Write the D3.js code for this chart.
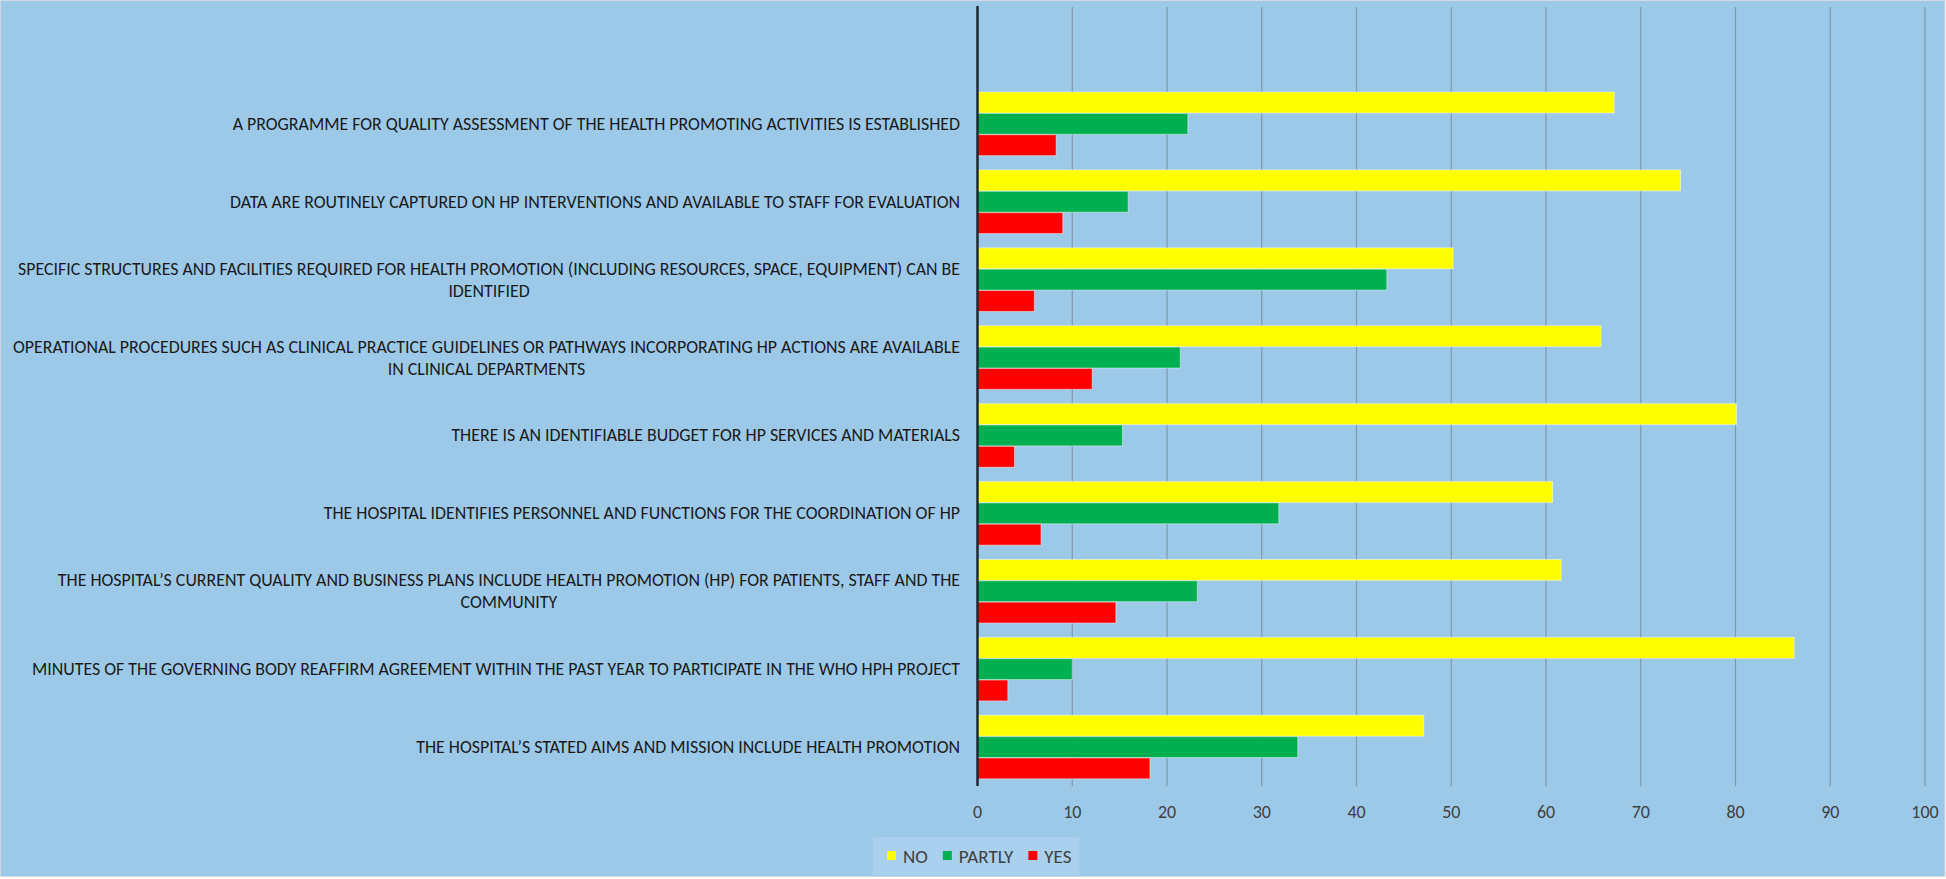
<!DOCTYPE html>
<html>
<head>
<meta charset="utf-8">
<script src="https://cdn.jsdelivr.net/npm/d3@7"></script>
<style>
  html, body { margin: 0; padding: 0; background: #ffffff; }
  svg { display: block; }
  text { font-family: "Carlito", "Liberation Sans Narrow", "DejaVu Sans Condensed", sans-serif; }
</style>
</head>
<body>
<svg id="chart" width="1946" height="879"></svg>
<script>
// ---- data ----
const categories = [
  "A PROGRAMME FOR QUALITY ASSESSMENT OF THE HEALTH PROMOTING ACTIVITIES IS ESTABLISHED",
  "DATA ARE ROUTINELY CAPTURED ON HP INTERVENTIONS AND AVAILABLE TO STAFF FOR EVALUATION",
  "SPECIFIC STRUCTURES AND FACILITIES REQUIRED FOR HEALTH PROMOTION (INCLUDING RESOURCES, SPACE, EQUIPMENT) CAN BE\nIDENTIFIED",
  "OPERATIONAL PROCEDURES SUCH AS CLINICAL PRACTICE GUIDELINES OR PATHWAYS INCORPORATING HP ACTIONS ARE AVAILABLE\nIN CLINICAL DEPARTMENTS",
  "THERE IS AN IDENTIFIABLE BUDGET FOR HP SERVICES AND MATERIALS",
  "THE HOSPITAL IDENTIFIES PERSONNEL AND FUNCTIONS FOR THE COORDINATION OF HP",
  "THE HOSPITAL’S CURRENT QUALITY AND BUSINESS PLANS INCLUDE HEALTH PROMOTION (HP) FOR PATIENTS, STAFF AND THE\nCOMMUNITY",
  "MINUTES OF THE GOVERNING BODY REAFFIRM AGREEMENT WITHIN THE PAST YEAR TO PARTICIPATE IN THE WHO HPH PROJECT",
  "THE HOSPITAL’S STATED AIMS AND MISSION INCLUDE HEALTH PROMOTION"
];
const seriesNames = ["NO", "PARTLY", "YES"];
const noValues     = [67.2, 74.2, 50.2, 65.8, 80.1, 60.7, 61.6, 86.2, 47.1];
const partlyValues = [22.2, 15.9, 43.2, 21.4, 15.3, 31.8, 23.2, 10.0, 33.8];
const yesValues    = [ 8.3,  9.0,  6.0, 12.1,  3.9,  6.7, 14.6,  3.2, 18.2];
const xTicks = [0, 10, 20, 30, 40, 50, 60, 70, 80, 90, 100];
const seriesColors = ["#ffff00", "#00b050", "#ff0000"];

// ---- layout ----
const W = 1946, H = 879;
const plot = { left: 977.5, right: 1925, top: 7, bottom: 786 };
const bg = "#9dc9e9";

const svg = d3.select("#chart");
svg.append("rect").attr("x", 0.5).attr("y", 0.5).attr("width", W - 1.5).attr("height", 876)
  .attr("fill", bg).attr("stroke", "#d0d8e0").attr("stroke-width", 1);

const x = d3.scaleLinear().domain([0, 100]).range([plot.left, plot.right]);
const yDomain = ["__blank__"].concat(categories);
const y = d3.scaleBand().domain(yDomain).range([plot.top, plot.bottom])
  .paddingInner(0.173).paddingOuter(0.0865);
const ySub = d3.scaleBand().domain(seriesNames).range([0, y.bandwidth()]).padding(0.02);

// gridlines
svg.append("g")
  .selectAll("line").data(xTicks.filter(d => d > 0)).join("line")
  .attr("x1", d => x(d)).attr("x2", d => x(d))
  .attr("y1", plot.top).attr("y2", plot.bottom)
  .attr("stroke", "#7f98ad").attr("stroke-width", 1.2);

// tick labels
svg.append("g")
  .selectAll("text").data(xTicks).join("text")
  .attr("x", d => x(d)).attr("y", 812)
  .attr("text-anchor", "middle").attr("dominant-baseline", "central")
  .attr("font-size", 18).attr("fill", "#404040")
  .text(d => d);

// bars
const series = [noValues, partlyValues, yesValues];
const barData = [];
categories.forEach((c, i) => {
  seriesNames.forEach((s, j) => barData.push({ cat: c, series: s, value: series[j][i], color: seriesColors[j] }));
});
svg.append("g").selectAll("rect").data(barData).join("rect")
  .attr("x", x(0))
  .attr("y", d => y(d.cat) + ySub(d.series))
  .attr("width", d => x(d.value) - x(0))
  .attr("height", ySub.bandwidth())
  .attr("fill", d => d.color)
  .attr("stroke", "rgba(255,255,255,0.45)").attr("stroke-width", 1);

// vertical axis line
svg.append("line")
  .attr("x1", x(0)).attr("x2", x(0)).attr("y1", plot.top - 1).attr("y2", plot.bottom)
  .attr("stroke", "#1c2833").attr("stroke-width", 2.5);

// category labels
const labelRight = 960;
const labelFont = 17;
const lg = svg.append("g");
const lineH = 22;
const labelGroups = lg.selectAll("g").data(categories).join("g");
labelGroups.each(function(c) {
  const g = d3.select(this);
  const lines = c.split("\n");
  const cy = y(c) + y.bandwidth() / 2;
  const ts = lines.map((ln, k) => g.append("text")
    .attr("font-size", labelFont).attr("fill", "#1a1a1a")
    .attr("dominant-baseline", "central")
    .attr("y", cy + (k - (lines.length - 1) / 2) * lineH)
    .text(ln));
  g.node().__ts = ts;
});
// fit font size so the longest line matches the label area width
let maxW = 0;
labelGroups.each(function() { this.__ts.forEach(t => { maxW = Math.max(maxW, t.node().getComputedTextLength()); }); });
const targetW = 948;
const fs = labelFont * targetW / maxW;
labelGroups.each(function() {
  const ts = this.__ts;
  ts.forEach(t => t.attr("font-size", fs));
  const widths = ts.map(t => t.node().getComputedTextLength());
  const bw = Math.max(...widths);
  const cx = labelRight - bw / 2;
  ts.forEach(t => t.attr("x", cx).attr("text-anchor", "middle"));
});

// legend
const legend = svg.append("g");
const lbox = legend.append("rect").attr("y", 837).attr("height", 38).attr("fill", "#a9d0ed");
let lx = 887;
seriesNames.forEach((s, j) => {
  legend.append("rect").attr("x", lx).attr("y", 851).attr("width", 9).attr("height", 9).attr("fill", seriesColors[j]);
  const t = legend.append("text").attr("x", lx + 16).attr("y", 856).attr("dominant-baseline", "central")
    .attr("font-size", 19).attr("fill", "#404040").text(s);
  lx = lx + 16 + t.node().getComputedTextLength() + 15;
});
lbox.attr("x", 873).attr("width", lx - 7 - 873);
</script>
</body>
</html>
